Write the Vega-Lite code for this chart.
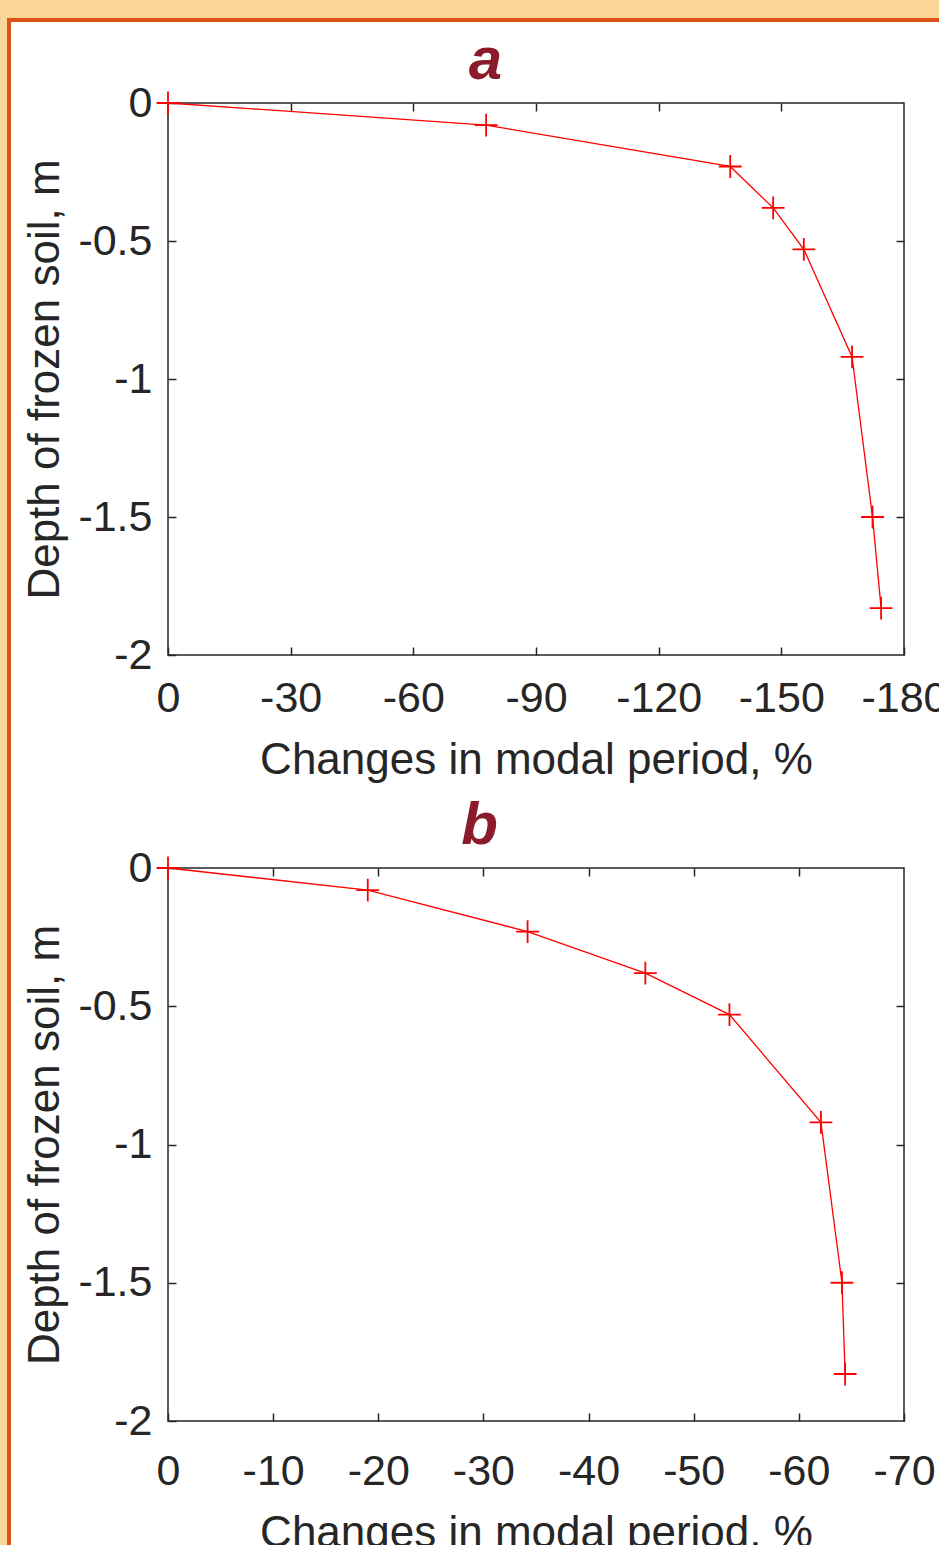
{
  "$schema": "https://vega.github.io/schema/vega-lite/v6.json",
  "background": "white",
  "padding": 0,
  "config": {
    "view": {"stroke": null},
    "font": "Liberation Sans",
    "axis": {
      "grid": false,
      "domain": false,
      "tickColor": "#262626",
      "tickWidth": 1.5,
      "tickSize": -8,
      "labelOverlap": false,
      "labelFlush": false,
      "labelFont": "Liberation Sans",
      "labelFontSize": 43,
      "labelColor": "#262626",
      "titleFont": "Liberation Sans",
      "titleFontSize": 44,
      "titleFontWeight": "normal",
      "titleColor": "#262626"
    },
    "title": {
      "font": "Liberation Sans",
      "fontSize": 60,
      "fontStyle": "italic",
      "fontWeight": "bold",
      "color": "#8B1A2B",
      "anchor": "middle",
      "frame": "bounds"
    }
  },
  "datasets": {
    "a": [
      {"change": 0, "depth": 0},
      {"change": -77.8, "depth": -0.08},
      {"change": -137.5, "depth": -0.23},
      {"change": -148.0, "depth": -0.38},
      {"change": -155.5, "depth": -0.53},
      {"change": -167.3, "depth": -0.92},
      {"change": -172.3, "depth": -1.5},
      {"change": -174.4, "depth": -1.83}
    ],
    "b": [
      {"change": 0, "depth": 0},
      {"change": -19.0, "depth": -0.08},
      {"change": -34.2, "depth": -0.23},
      {"change": -45.4, "depth": -0.38},
      {"change": -53.4, "depth": -0.53},
      {"change": -62.1, "depth": -0.92},
      {"change": -64.1, "depth": -1.5},
      {"change": -64.4, "depth": -1.83}
    ]
  },
  "align": "none",
  "spacing": 0,
  "concat": [
    {"width": 7, "height": 1545, "data": {"values": [{}]}, "mark": {"type": "rect", "color": "#F9D597"}, "encoding": {}},
    {
      "align": "none",
      "columns": 1,
      "spacing": 0,
      "concat": [
        {"width": 932, "height": 18, "data": {"values": [{}]}, "mark": {"type": "rect", "color": "#F9D597"}, "encoding": {}},
        {
          "align": "none",
          "spacing": 0,
          "concat": [
            {"width": 4, "height": 1527, "data": {"values": [{}]}, "mark": {"type": "rect", "color": "#DC5316"}, "encoding": {}},
            {
              "align": "none",
              "columns": 1,
              "spacing": 8,
              "concat": [
                {"width": 928, "height": 4, "data": {"values": [{}]}, "mark": {"type": "rect", "color": "#DC5316"}, "encoding": {}},
                {
                  "align": "none",
                  "spacing": 11,
                  "concat": [
                    {"width": 1, "height": 1, "data": {"values": [{}]}, "mark": {"type": "rect", "color": "white"}, "encoding": {}},
                    {
                      "align": "none",
                      "columns": 1,
                      "spacing": 12,
                      "concat": [
                        {
                          "width": 736,
                          "height": 552,
                          "title": {"text": "a", "offset": -10},
                          "view": {"stroke": "#262626", "strokeWidth": 1.5},
                          "data": {"name": "a"},
                          "layer": [
                            {
                              "mark": {"type": "line", "color": "#FF0000", "strokeWidth": 1.3},
                              "encoding": {
                                "x": {"field": "change", "type": "quantitative", "scale": {"domain": [-180, 0], "reverse": true, "nice": false, "zero": false},
                                  "axis": {"orient": "bottom", "values": [0, -30, -60, -90, -120, -150, -180], "labelExpr": "toString(datum.value)", "labelPadding": 30, "title": "Changes in modal period, %", "titlePadding": 18}},
                                "y": {"field": "depth", "type": "quantitative", "scale": {"domain": [-2, 0], "nice": false, "zero": false},
                                  "axis": {"orient": "left", "values": [0, -0.5, -1, -1.5, -2], "labelExpr": "toString(datum.value)", "labelPadding": 24, "title": "Depth of frozen soil, m", "titlePadding": 10}}
                              }
                            },
                            {
                              "mark": {"type": "point", "shape": "M-1,0L1,0M0,-1L0,1", "size": 520, "filled": false, "color": "#FF0000", "strokeWidth": 1.8, "opacity": 1},
                              "encoding": {
                                "x": {"field": "change", "type": "quantitative", "axis": {"orient": "top", "values": [-30, -60, -90, -120, -150], "labels": false, "title": null}},
                                "y": {"field": "depth", "type": "quantitative", "axis": {"orient": "right", "values": [-0.5, -1, -1.5], "labels": false, "title": null}}
                              }
                            }
                          ],
                          "resolve": {"axis": {"x": "independent", "y": "independent"}}
                        },
                        {
                          "width": 736,
                          "height": 553,
                          "title": {"text": "b", "offset": -10},
                          "view": {"stroke": "#262626", "strokeWidth": 1.5},
                          "data": {"name": "b"},
                          "layer": [
                            {
                              "mark": {"type": "line", "color": "#FF0000", "strokeWidth": 1.3},
                              "encoding": {
                                "x": {"field": "change", "type": "quantitative", "scale": {"domain": [-70, 0], "reverse": true, "nice": false, "zero": false},
                                  "axis": {"orient": "bottom", "values": [0, -10, -20, -30, -40, -50, -60, -70], "labelExpr": "toString(datum.value)", "labelPadding": 37, "title": "Changes in modal period, %", "titlePadding": 18}},
                                "y": {"field": "depth", "type": "quantitative", "scale": {"domain": [-2, 0], "nice": false, "zero": false},
                                  "axis": {"orient": "left", "values": [0, -0.5, -1, -1.5, -2], "labelExpr": "toString(datum.value)", "labelPadding": 24, "title": "Depth of frozen soil, m", "titlePadding": 10}}
                              }
                            },
                            {
                              "mark": {"type": "point", "shape": "M-1,0L1,0M0,-1L0,1", "size": 520, "filled": false, "color": "#FF0000", "strokeWidth": 1.8, "opacity": 1},
                              "encoding": {
                                "x": {"field": "change", "type": "quantitative", "axis": {"orient": "top", "values": [-10, -20, -30, -40, -50, -60], "labels": false, "title": null}},
                                "y": {"field": "depth", "type": "quantitative", "axis": {"orient": "right", "values": [-0.5, -1, -1.5], "labels": false, "title": null}}
                              }
                            }
                          ],
                          "resolve": {"axis": {"x": "independent", "y": "independent"}}
                        }
                      ]
                    }
                  ]
                }
              ]
            }
          ]
        }
      ]
    }
  ]
}
